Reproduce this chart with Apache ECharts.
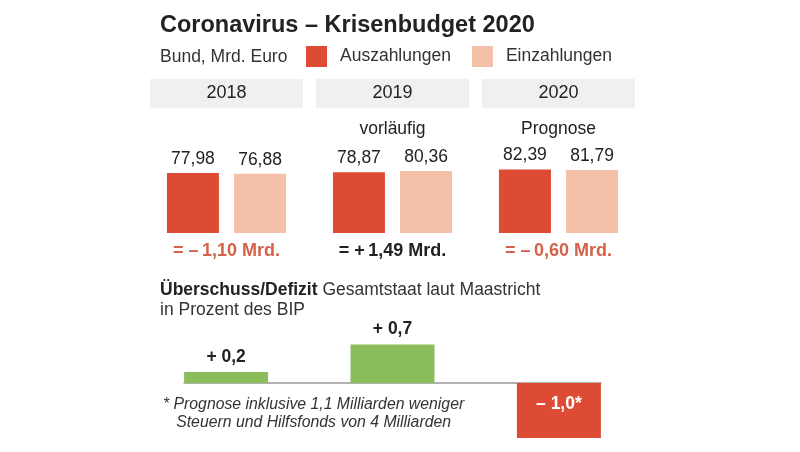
<!DOCTYPE html>
<html><head><meta charset="utf-8">
<script src="https://cdn.jsdelivr.net/npm/echarts@6/dist/echarts.min.js"></script>
<style>html,body{margin:0;padding:0;background:#fff}#c{width:800px;height:452px}</style>
</head><body><div id="c"></div>
<script>
// ---- data ----
var years = ['2018', '2019', '2020'];
var yearNotes = ['', 'vorläufig', 'Prognose'];
var auszahlungen = [77.98, 78.87, 82.39];
var einzahlungen = [76.88, 80.36, 81.79];
var saldo = [-1.10, 1.49, -0.60];
var defizit = [0.2, 0.7, -1.0];
var defizitNote = ['', '', '*'];

var FONT = '"Liberation Sans", Arial, sans-serif';
var RED = '#dd4b35', PINK = '#f5c0a8', GREEN = '#8cbd5c', TXT = '#222';

function de(v, d) { return Math.abs(v).toFixed(d).replace('.', ','); }

var chart = echarts.init(document.getElementById('c'), null, {renderer: 'canvas'});
var option = {
  backgroundColor: '#fff',
  animation: false,
  textStyle: {fontFamily: FONT},
  legend: {
    left: 306, top: 46, padding: 0, itemWidth: 21, itemHeight: 21, itemGap: 21, icon: 'rect',
    textStyle: {fontFamily: FONT, fontSize: 17.5, color: '#333', padding: [0, 0, 0, 8]},
    data: ['Auszahlungen', 'Einzahlungen']
  },
  graphic: [
    {type: 'text', left: 160, top: 14, style: {text: 'Coronavirus – Krisenbudget 2020', font: 'bold 23.5px ' + FONT, fill: TXT}},
    {type: 'text', left: 160, top: 48, style: {text: 'Bund, Mrd. Euro', font: '17.5px ' + FONT, fill: '#333'}},
    {type: 'text', left: 160, top: 280, style: {
      text: '{b|Überschuss/Defizit} Gesamtstaat laut Maastricht\nin Prozent des BIP',
      font: '17.5px ' + FONT, fill: '#333', lineHeight: 20,
      rich: {b: {fontWeight: 'bold', fontSize: 17.5, fontFamily: FONT, fill: TXT, lineHeight: 20}}
    }},
    {type: 'text', left: 163, top: 396, style: {
      text: '* Prognose inklusive 1,1 Milliarden weniger\n   Steuern und Hilfsfonds von 4 Milliarden',
      font: 'italic 15.8px ' + FONT, fill: '#333', lineHeight: 18
    }}
  ],
  grid: [
    {left: 143.5, width: 498, top: 156, height: 77},
    {left: 184, width: 417, top: 328, height: 110}
  ],
  xAxis: [
    {
      type: 'category', gridIndex: 0, data: years, position: 'bottom',
      axisLine: {show: false}, axisTick: {show: false},
      axisLabel: {
        margin: 9,
        formatter: function (v, i) {
          var s = saldo[i];
          var t = '= ' + (s < 0 ? '–' : '+') + '\u2009' + de(s, 2) + ' Mrd.';
          return s < 0 ? '{n|' + t + '}' : '{p|' + t + '}';
        },
        rich: {
          n: {fontFamily: FONT, fontWeight: 'bold', fontSize: 18, color: '#d4614a'},
          p: {fontFamily: FONT, fontWeight: 'bold', fontSize: 18, color: TXT}
        }
      }
    },
    {
      type: 'category', gridIndex: 0, data: years, position: 'top',
      axisLine: {show: false}, axisTick: {show: false},
      axisLabel: {
        margin: 6,
        formatter: function (v, i) { return '{y|' + v + '}\n{s|' + (yearNotes[i] || ' ') + '}'; },
        rich: {
          y: {fontFamily: FONT, fontSize: 18, color: TXT, backgroundColor: '#f0f0f0', width: 153, height: 29, lineHeight: 29, align: 'center'},
          s: {fontFamily: FONT, fontSize: 17.5, color: TXT, lineHeight: 42, align: 'center'}
        }
      }
    },
    {
      type: 'value', gridIndex: 1, min: -0.253, max: 2.253, show: true,
      splitLine: {show: false}, axisTick: {show: false}, axisLabel: {show: false},
      axisLine: {show: true, onZero: true, lineStyle: {color: '#999', width: 1.5}}
    }
  ],
  yAxis: [
    {type: 'value', gridIndex: 0, min: 0, max: 100, show: false},
    {type: 'value', gridIndex: 1, min: -1, max: 1, show: false}
  ],
  series: [
    {
      name: 'Auszahlungen', type: 'bar', xAxisIndex: 0, yAxisIndex: 0,
      data: auszahlungen, barWidth: 52, barGap: '29%', itemStyle: {color: RED},
      label: {show: true, position: 'top', distance: 5, fontFamily: FONT, fontSize: 17.5, color: TXT,
        formatter: function (p) { return de(p.value, 2); }}
    },
    {
      name: 'Einzahlungen', type: 'bar', xAxisIndex: 0, yAxisIndex: 0,
      data: einzahlungen, barWidth: 52, barGap: '29%', itemStyle: {color: PINK},
      label: {show: true, position: 'top', distance: 5, fontFamily: FONT, fontSize: 17.5, color: TXT,
        formatter: function (p) { return de(p.value, 2); }}
    },
    {
      name: 'Defizit', type: 'bar', xAxisIndex: 2, yAxisIndex: 1, barWidth: 84,
      data: defizit.map(function (v, i) {
        return {
          value: [i, v],
          itemStyle: {color: v < 0 ? RED : GREEN},
          label: v < 0
            ? {position: 'insideTop', distance: 12, color: '#fff'}
            : {position: 'top', distance: 6, color: TXT}
        };
      }),
      label: {show: true, fontFamily: FONT, fontWeight: 'bold', fontSize: 17.5,
        formatter: function (p) {
          var v = p.value[1];
          return (v < 0 ? '–' : '+') + ' ' + de(v, 1) + defizitNote[p.dataIndex];
        }}
    }
  ]
};
chart.setOption(option);
</script></body></html>
